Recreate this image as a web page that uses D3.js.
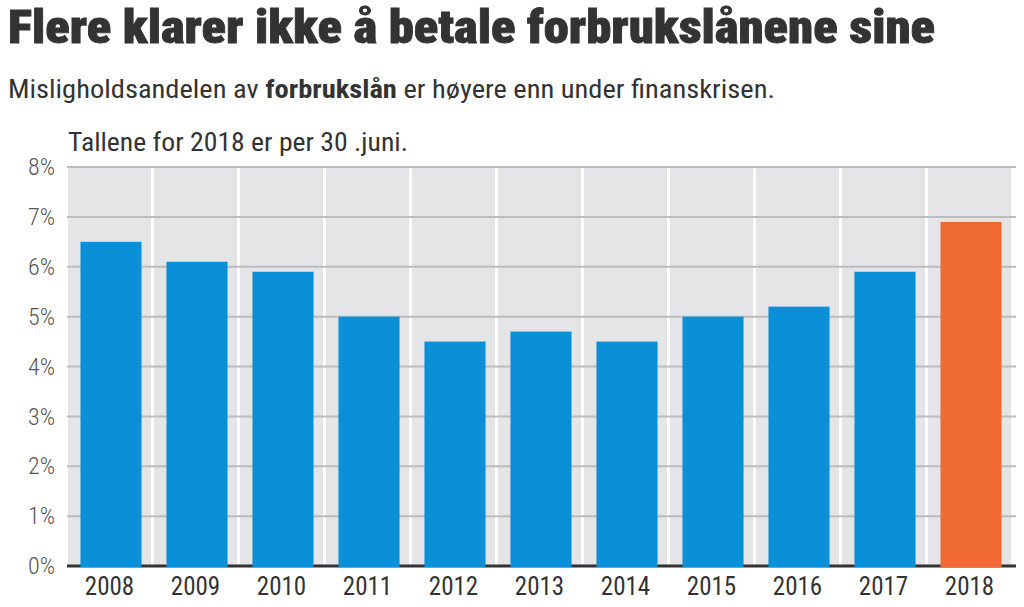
<!DOCTYPE html>
<html>
<head>
<meta charset="utf-8">
<script src="https://cdn.jsdelivr.net/npm/d3@7"></script>
<style>
  html, body { margin: 0; padding: 0; background: #fff; }
  svg { display: block; }
  text { font-family: "Roboto Condensed", "Liberation Sans Narrow", "DejaVu Sans Condensed", "Open Sans", sans-serif; }
</style>
</head>
<body>
<svg id="chart" width="1024" height="607"></svg>
<script>
const title = "Flere klarer ikke å betale forbrukslånene sine";
const subtitlePre = "Misligholdsandelen av ";
const subtitleBold = "forbrukslån";
const subtitlePost = " er høyere enn under finanskrisen.";
const note = "Tallene for 2018 er per 30 .juni.";

const years = ["2008","2009","2010","2011","2012","2013","2014","2015","2016","2017","2018"];
const values = [6.5, 6.1, 5.9, 5.0, 4.5, 4.7, 4.5, 5.0, 5.2, 5.9, 6.9];
const highlight = ["2018"];
const yTicks = [0, 1, 2, 3, 4, 5, 6, 7, 8];

const svg = d3.select("#chart");

function fitText(sel, w) {
  const n = sel.node();
  const len = n.getComputedTextLength();
  if (len > 0) sel.attr("textLength", w).attr("lengthAdjust", "spacingAndGlyphs");
}

// Title
const t = svg.append("text").attr("x", 8).attr("y", 43)
  .attr("font-size", 46).attr("font-weight", 900).attr("fill", "#333")
  .attr("stroke", "#333").attr("stroke-width", 0.8)
  .text(title);
fitText(t, 927);

// Subtitle
const st = svg.append("text").attr("x", 8).attr("y", 98)
  .attr("font-size", 25).attr("fill", "#333");
st.append("tspan").text(subtitlePre);
st.append("tspan").attr("font-weight", 700).text(subtitleBold);
st.append("tspan").text(subtitlePost);
fitText(st, 767);

// Note
const nt = svg.append("text").attr("x", 68).attr("y", 151)
  .attr("font-size", 25).attr("fill", "#333").text(note);
fitText(nt, 340);

// Scales
const x = d3.scaleBand().domain(years).range([68, 1014]).paddingInner(0).paddingOuter(0);
const y = d3.scaleLinear().domain([0, 8]).range([566, 167]);

const g = svg.append("g");

// Column backgrounds
g.selectAll("rect.col").data(years).enter().append("rect")
  .attr("class", "col")
  .attr("x", d => x(d))
  .attr("y", y(8))
  .attr("width", x.bandwidth() - 3)
  .attr("height", y(0) - y(8))
  .attr("fill", "#e5e5e7");

// Gridlines
g.selectAll("line.grid").data(yTicks.filter(v => v > 0)).enter().append("line")
  .attr("class", "grid")
  .attr("x1", 67).attr("x2", 1016)
  .attr("y1", d => y(d)).attr("y2", d => y(d))
  .attr("stroke", "#bdbdbf").attr("stroke-width", 2);

// Baseline
g.append("line").attr("x1", 67).attr("x2", 1016)
  .attr("y1", y(0)).attr("y2", y(0))
  .attr("stroke", "#333").attr("stroke-width", 3);

// Bars
const inner = d3.scaleBand().domain(years).range([68, 1014]).paddingInner(0.29).paddingOuter(0.145);
g.selectAll("rect.bar").data(years).enter().append("rect")
  .attr("class", "bar")
  .attr("x", d => inner(d))
  .attr("width", inner.bandwidth())
  .attr("y", (d, i) => y(values[i]))
  .attr("height", (d, i) => y(0) - y(values[i]) + 1)
  .attr("fill", d => highlight.includes(d) ? "#ef6b33" : "#0b8fd6");

// Y axis
const yAxis = d3.axisLeft(y).tickValues(yTicks).tickFormat(d => d + "%").tickSize(0).tickPadding(0);
const ya = svg.append("g").attr("transform", "translate(55,0)").call(yAxis);
ya.select(".domain").remove();
ya.selectAll("text").attr("font-size", 24).attr("fill", "#555")
  .attr("font-family", "\"Roboto Condensed\", \"Liberation Sans Narrow\", \"DejaVu Sans Condensed\", sans-serif")
  .attr("font-weight", 300);

// X axis
const xAxis = d3.axisBottom(x).tickSize(0).tickPadding(0);
const xa = svg.append("g").attr("transform", "translate(-1.5," + 577 + ")").call(xAxis);
xa.select(".domain").remove();
xa.selectAll("text").attr("font-size", 25).attr("fill", "#333").attr("dy", "0.71em")
  .attr("font-family", "\"Roboto Condensed\", \"Liberation Sans Narrow\", \"DejaVu Sans Condensed\", sans-serif");
</script>
</body>
</html>
